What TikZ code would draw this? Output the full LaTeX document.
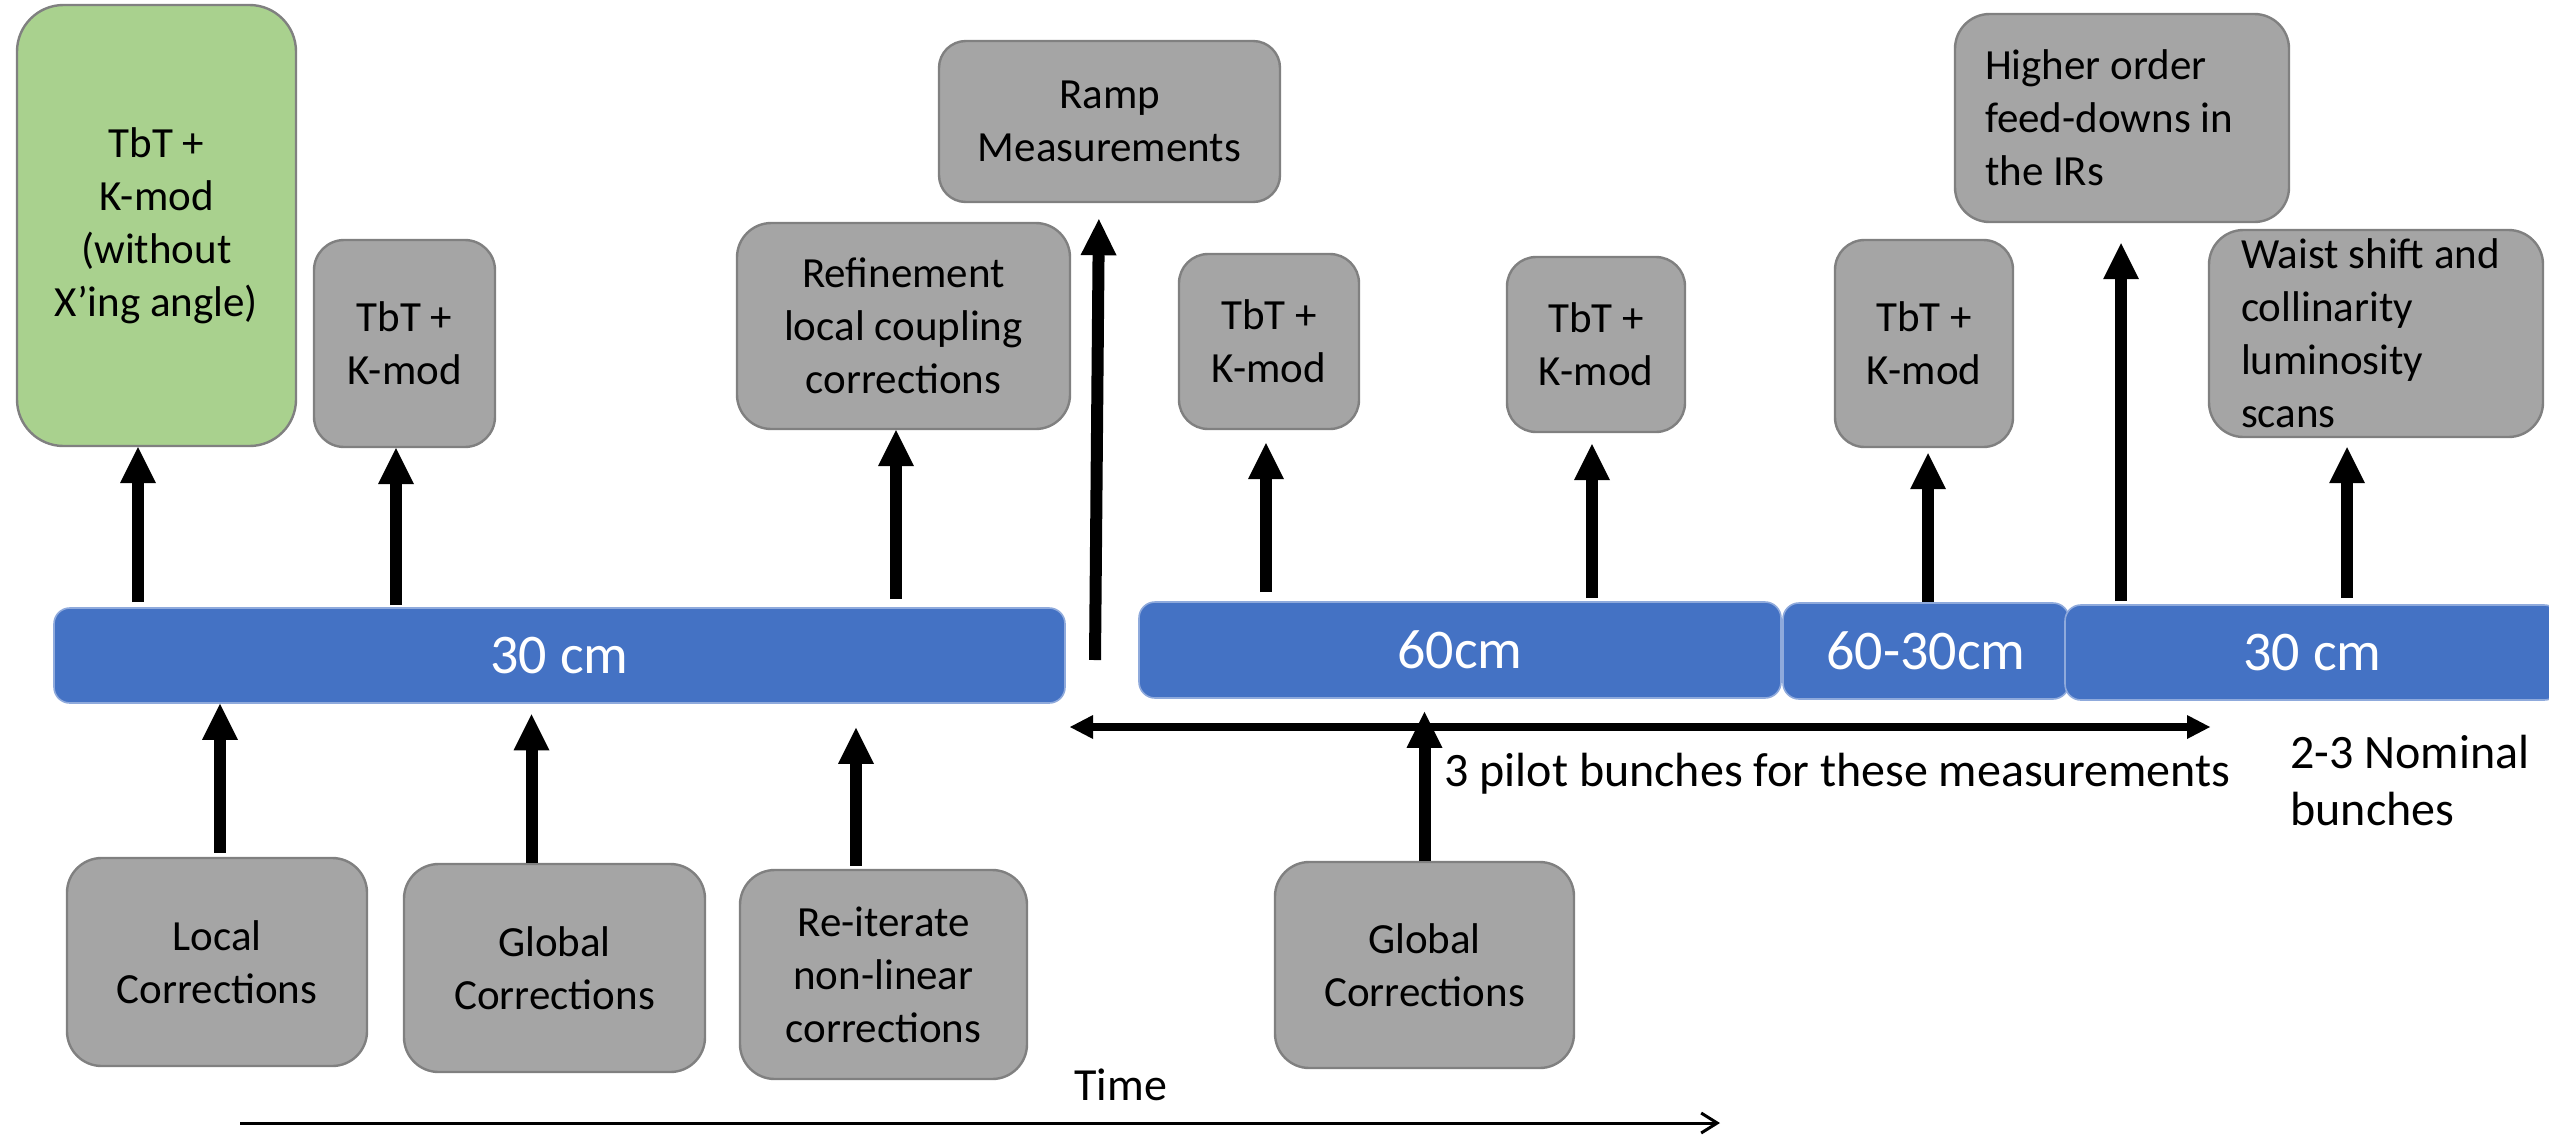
\documentclass[tikz,border=0pt]{standalone}
\usepackage{fontspec}
\setmainfont{Carlito}
\usetikzlibrary{arrows.meta}

\definecolor{boxgrey}{HTML}{A5A5A5}
\definecolor{edgegrey}{HTML}{808080}
\definecolor{stepgreen}{HTML}{A9D18E}
\definecolor{barblue}{HTML}{4472C4}
\definecolor{baredge}{HTML}{8FAADC}

% rounded box given by its corners (x1,y1) (x2,y2), corner radius 1/6 of the shorter side
\newcommand\placebox[7][]{%
  \pgfmathsetmacro\boxW{(#5-#3)*0.5}%
  \pgfmathsetmacro\boxH{(#6-#4)*0.5}%
  \pgfmathsetmacro\boxR{min(\boxW,\boxH)*0.1667}%
  \node[#1, minimum width=\boxW pt, minimum height=\boxH pt, rounded corners=\boxR pt]
    (#2) at ({(#3+#5)/2},{(#4+#6)/2}) {#7};}

% fixed word spacing for ragged-right box texts
\newcommand\fixedwords{\spaceskip=0.226em\relax}

\tikzset{
  task/.style={draw=edgegrey, line width=1.2pt, fill=boxgrey, inner sep=0pt,
    align=center, font=\fontsize{21.5}{26.5}\selectfont},
  firststep/.style={task, fill=stepgreen},
  lefttask/.style={task, align=left, text width=#1},
  phase/.style={draw=baredge, line width=0.8pt, fill=barblue, text=white,
    inner sep=0pt, font=\fontsize{28}{34}\selectfont},
  note/.style={inner sep=0pt, font=\fontsize{24}{28.5}\selectfont},
  uparr/.style={line width=6pt, -{Triangle[length=18pt,width=18pt,line width=0pt]}},
  dblarr/.style={line width=4pt,
    {Triangle[length=11.5pt,width=12pt,line width=0pt]}-{Triangle[length=11.5pt,width=12pt,line width=0pt]}},
  timearr/.style={line width=1.5pt, -{Straight Barb[length=8pt,width=10pt]}}
}

\begin{document}
\begin{tikzpicture}[x=0.5pt, y=-0.5pt]
\useasboundingbox (0,0) rectangle (2549,1136);

% measurement steps above the timeline
\placebox[firststep]{green}{17}{5}{296}{446}{TbT +\\K-mod\\(without\\X’ing angle)}
\placebox[task]{tbt1}{314}{240}{495}{447}{TbT +\\K-mod}
\placebox[task]{refine}{737}{223}{1070}{429}{Refinement\\local coupling\\corrections}
\placebox[task]{ramp}{939}{41}{1280}{202}{Ramp\\Measurements}
\placebox[task]{tbt2}{1179}{254}{1359}{429}{TbT +\\K-mod}
\placebox[task]{tbt3}{1507}{257}{1685}{432}{TbT +\\K-mod}
\placebox[task]{tbt4}{1835}{240}{2013}{447}{TbT +\\K-mod}
\placebox[lefttask=137pt]{higher}{1955}{14}{2289}{222}{\fixedwords Higher order\\feed-downs in\\the IRs}
\placebox[lefttask=135pt]{waist}{2209}{230}{2543}{437}{\fixedwords Waist shift and\\collinarity\\luminosity\\scans}

% beta* phases
\placebox[phase]{bar1}{54}{608}{1065}{703}{30 cm}
\placebox[phase]{bar2}{1139}{602}{1781}{698}{60cm}
\placebox[phase]{bar3}{1783}{603}{2069}{699}{60-30cm}
\placebox[phase]{bar4}{2065}{605}{2560}{700}{30 cm}

% corrections below the timeline
\placebox[task]{local}{67}{858}{367}{1066}{Local\\Corrections}
\placebox[task]{global1}{404}{864}{705}{1072}{Global\\Corrections}
\placebox[task]{reiter}{740}{870}{1027}{1079}{Re-iterate\\non-linear\\corrections}
\placebox[task]{global2}{1275}{862}{1574}{1068}{Global\\Corrections}

% arrow columns
\coordinate (colA) at (138,0);
\coordinate (colB) at (396,0);
\coordinate (colC) at (896,0);
\coordinate (colE) at (1266,0);
\coordinate (colF) at (1592,0);
\coordinate (colG) at (1928,0);
\coordinate (colH) at (2121,0);
\coordinate (colI) at (2347,0);
\coordinate (colJ) at (220,0);
\coordinate (colK) at (531.5,0);
\coordinate (colL) at (856,0);
\coordinate (rampfoot) at (1095,660);
\coordinate (pilotL) at (1070,727);
\coordinate (pilotR) at (2210,727);
\coordinate (timeL) at (240,1123);
\coordinate (timeR) at (1720,1123);

% upward arrows to the measurements
\draw[uparr, shorten <=2.5pt] (colA |- bar1.north) -- (colA |- green.south);
\draw[uparr, shorten <=1pt] (colB |- bar1.north) -- (colB |- tbt1.south);
\draw[uparr, shorten <=4pt] (colC |- bar1.north) -- (colC |- refine.south);
\draw[uparr, shorten >=8pt] (rampfoot) -- ([xshift=-5.25pt]ramp.south);
\draw[uparr, shorten <=4.5pt, shorten >=6.5pt] (colE |- bar2.north) -- (colE |- tbt2.south);
\draw[uparr, shorten <=1.5pt, shorten >=5.5pt] (colF |- bar2.north) -- (colF |- tbt3.south);
\draw[uparr, shorten >=2.5pt] (colG |- bar3.north) -- (colG |- tbt4.south);
\draw[uparr, shorten <=1.5pt, shorten >=10pt] (colH |- bar4.north) -- (colH |- higher.south);
\draw[uparr, shorten <=3pt, shorten >=4.5pt] (colI |- bar4.north) -- (colI |- waist.south);

% pilot bunch span
\draw[dblarr] (pilotL) -- (pilotR);

% upward arrows from the corrections
\draw[uparr, shorten <=2pt] (colJ |- local.north) -- (colJ |- bar1.south);
\draw[uparr, shorten >=5.3pt] (colK |- global1.north) -- (colK |- bar1.south);
\draw[uparr, shorten <=1.5pt, shorten >=12pt] (colL |- reiter.north) -- (colL |- bar1.south);
\draw[uparr, shorten >=6.5pt] (global2.north) -- (global2.north |- bar2.south);

% labels
\node[note, anchor=base west] (pilot) at (1444,786) {3 pilot bunches for these measurements};
\node[note, anchor=base west, align=left] (nominal) at (2290,825) {2-3 Nominal\\bunches};

% time axis
\draw[timearr] (timeL) -- (timeR);
\node[inner sep=0pt, anchor=base west, font=\fontsize{23}{28}\selectfont] (time) at (1074,1100) {Time};
\end{tikzpicture}
\end{document}
